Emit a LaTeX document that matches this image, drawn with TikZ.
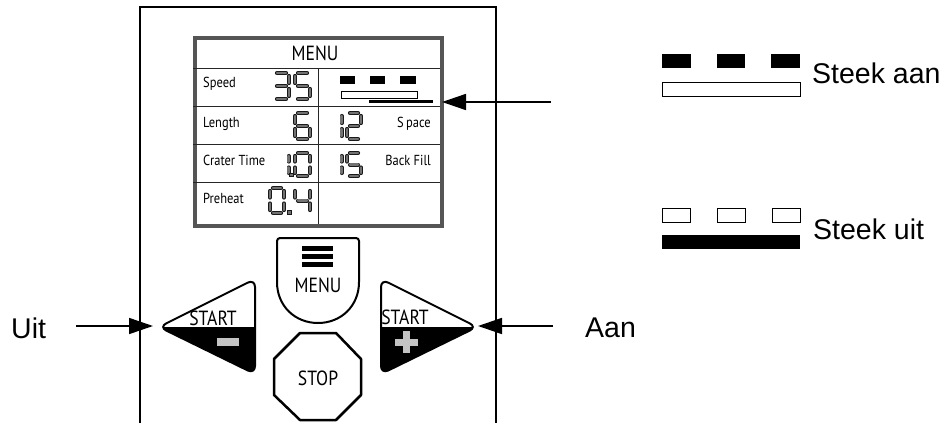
\documentclass[tikz,border=0pt]{standalone}
\usepackage{fontspec}
\setmainfont{Liberation Sans}
\newfontfamily\pfont[FakeStretch=0.86]{PT Sans}
\usetikzlibrary{arrows.meta}
\definecolor{scrgray}{HTML}{555555}
\definecolor{segfill}{HTML}{727272}
\definecolor{btngray}{HTML}{C4C4C4}
\tikzset{
  segout/.style={line width=\dT pt, draw=black!90, line cap=round},
  segin/.style={line width=\dTi pt, draw=segfill, line cap=round},
  arr/.style={line width=1.6pt, -{Triangle[length=24pt,width=16pt]}},
  btn/.style={line width=2pt, draw=black},
  grid/.style={line width=1pt, draw=black!85},
  lbl/.style={font=\pfont\fontsize{14.5}{14.5}\selectfont, inner sep=0pt},
  btxt/.style={font=\pfont\fontsize{20.5}{20.5}\selectfont, inner sep=0pt},
  legtxt/.style={font=\fontsize{28.5}{28.5}\selectfont, inner sep=0pt},
}
\newcommand\segline[2]{\draw[segout] #1 -- #2; \draw[segin] #1 -- #2;}
\newcommand\dsega{\segline{(\dT+0.9,\dT/2)}{(\dW-\dT-0.9,\dT/2)}}
\newcommand\dsegb{\segline{(\dW-\dT/2,\dT+0.9)}{(\dW-\dT/2,\dH/2-\dT/2-0.9)}}
\newcommand\dsegc{\segline{(\dW-\dT/2,\dH/2+\dT/2+0.9)}{(\dW-\dT/2,\dH-\dT-0.9)}}
\newcommand\dsegd{\segline{(\dT+0.9,\dH-\dT/2)}{(\dW-\dT-0.9,\dH-\dT/2)}}
\newcommand\dsege{\segline{(\dT/2,\dH/2+\dT/2+0.9)}{(\dT/2,\dH-\dT-0.9)}}
\newcommand\dsegf{\segline{(\dT/2,\dT+0.9)}{(\dT/2,\dH/2-\dT/2-0.9)}}
\newcommand\dsegg{\segline{(\dT+0.9,\dH/2)}{(\dW-\dT-0.9,\dH/2)}}
\newcommand\sdigit[6]{%
  \begin{scope}[shift={(#1,#2)}]
    \def\dW{#3}\def\dH{#4}\def\dT{#5}\pgfmathsetmacro\dTi{#5-1.7}
    \foreach \s in {#6}{\csname dseg\s\endcsname}
  \end{scope}}
\newcommand\sdot[2]{\draw[line width=0.9pt, draw=black!90, fill=segfill] (#1-1.9,#2-1.9) rectangle (#1+1.9,#2+1.9);}

\begin{document}
\begin{tikzpicture}[x=1pt,y=-1pt]
\useasboundingbox[fill=white] (0,0) rectangle (947,423);

% outer panel
\draw[line width=2.2pt] (140,423) -- (140,7) -- (496,7) -- (496,423);

% screen
\node[draw=scrgray, line width=3.8pt, minimum width=247pt, minimum height=188pt, inner sep=0pt, anchor=north west] (screen) at (193,36) {};
\draw[grid] (193,68) -- (440,68);
\draw[grid] (193,106) -- (440,106);
\draw[grid] (193,144) -- (440,144);
\draw[grid] (193,182) -- (440,182);
\draw[grid] (318,68) -- (318,224);
\node[font=\pfont\fontsize{20.5}{20.5}\selectfont, inner sep=0pt] (hdr) at (315,53) {MENU};

\node[lbl, anchor=base west] (speed) at (203,87) {Speed};
\node[lbl, anchor=base west] (length) at (203,127) {Length};
\node[lbl, anchor=base west] (crater) at (203,165) {Crater Time};
\node[lbl, anchor=base west] (preheat) at (203,203) {Preheat};
\node[lbl, anchor=base east] (space) at (431,127) {S\,pace};
\node[lbl, anchor=base east] (backfill) at (431,165) {Back Fill};

% digits
\sdigit{272}{71}{19}{30}{4}{a,b,c,d,g}
\sdigit{293}{71}{19}{30}{4}{a,f,g,c,d}
\sdigit{293}{111}{19}{30}{4}{a,f,g,e,c,d}
\sdigit{338}{111}{5.5}{30}{4}{b,c}
\sdigit{345}{111}{18}{30}{4}{a,b,g,e,d}
\sdigit{285}{151}{5.5}{27}{4}{b,c}
\sdot{291.5}{175}
\sdigit{293}{151}{19}{27}{4}{a,b,c,d,e,f}
\sdigit{338}{151}{5.5}{27}{4}{b,c}
\sdigit{345}{151}{18}{27}{4}{a,f,g,c,d}
\sdigit{268}{186}{18}{29}{4}{a,b,c,d,e,f}
\sdot{289.5}{212.5}
\sdigit{293}{186}{19}{29}{4}{f,g,b,c}

% stitch indicator on screen
\fill (340,76) rectangle (355,84);
\fill (370,76) rectangle (385,84);
\fill (400,76) rectangle (416,84);
\draw[line width=0.8pt, fill=white] (341,91) rectangle (417,98);
\draw[line width=2.5pt] (369,101.5) -- (433,101.5);

% buttons
\begin{scope}
  \clip (150,327) rectangle (262,385);
  \fill[rounded corners=8pt] (159,327) -- (255,279) -- (255,374) -- cycle;
\end{scope}
\draw[btn, rounded corners=8pt] (159,327) -- (255,279) -- (255,374) -- cycle;
\node[btxt] (startl) at (213,318) {START};
\fill[btngray] (217,338) rectangle (239,346);

\begin{scope}
  \clip (374,327) rectangle (486,385);
  \fill[rounded corners=8pt] (477,327) -- (381,279) -- (381,374) -- cycle;
\end{scope}
\draw[btn, rounded corners=8pt] (477,327) -- (381,279) -- (381,374) -- cycle;
\node[btxt] (startr) at (405,317) {START};
\fill[btngray] (395,338.5) rectangle (418,345.5);
\fill[btngray] (403,331) rectangle (410,353);

% MENU button
\draw[btn] (277,241) [rounded corners=3pt] -- (277,238) -- (359,238) [sharp corners] -- (359,282)
  .. controls (359,306) and (341,323) .. (318,323)
  .. controls (295,323) and (277,306) .. (277,282) -- cycle;
\fill (302,246) rectangle (333,250.5);
\fill (302,254) rectangle (333,258.5);
\fill (302,262) rectangle (333,266.5);
\node[btxt] (menub) at (318,285) {MENU};

% STOP button
\draw[line width=2.5pt, line join=round] (300,333) -- (336,333) -- (361,359) -- (361,395) -- (336,420) -- (300,420) -- (274,395) -- (274,359) -- cycle;
\node[btxt] (stop) at (318,378) {STOP};

% labels and arrows
\node[legtxt, anchor=base west] (uit) at (11,338) {Uit};
\node[legtxt, anchor=base west] (aan) at (585,337) {Aan};
\coordinate (uitS) at (76,326);
\coordinate (uitE) at (153,326);
\coordinate (aanS) at (553,326);
\coordinate (aanE) at (478,326);
\coordinate (scrS) at (551,102);
\coordinate (scrE) at (442,102);
\draw[arr] (uitS) -- (uitE);
\draw[arr] (aanS) -- (aanE);
\draw[arr] (scrS) -- (scrE);

% legend
\fill (662,54) rectangle (691,68);
\fill (717,54) rectangle (745,68);
\fill (771,54) rectangle (800,68);
\draw[line width=1pt, fill=white] (662,82) rectangle (800,96);
\node[legtxt, anchor=base west] (aanleg) at (812,83) {Steek aan};

\draw[line width=1pt, fill=white] (662,208) rectangle (690,222);
\draw[line width=1pt, fill=white] (717,208) rectangle (745,222);
\draw[line width=1pt, fill=white] (772,208) rectangle (800,222);
\fill (662,235) rectangle (800,249);
\node[legtxt, anchor=base west] (uitleg) at (813,239) {Steek uit};
\end{tikzpicture}
\end{document}
